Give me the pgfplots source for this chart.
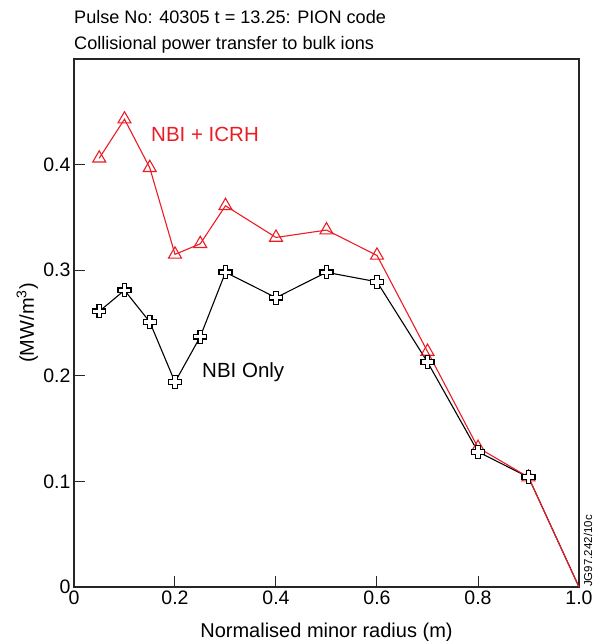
\documentclass[border=0pt]{standalone}
\usepackage{fontspec}
\setmainfont{Liberation Sans}
\usepackage{pgfplots}
\usepackage{pgfplotstable}
\pgfplotsset{compat=1.18}
\definecolor{jetred}{RGB}{236,28,36}
\pgfdeclareplotmark{fatplus}{%
  \pgfmathsetlengthmacro{\fpL}{\pgfplotmarksize}%
  \pgfmathsetlengthmacro{\fpA}{0.36*\pgfplotmarksize}%
  \pgfpathmoveto{\pgfqpoint{-\fpA}{\fpL}}%
  \pgfpathlineto{\pgfqpoint{\fpA}{\fpL}}%
  \pgfpathlineto{\pgfqpoint{\fpA}{\fpA}}%
  \pgfpathlineto{\pgfqpoint{\fpL}{\fpA}}%
  \pgfpathlineto{\pgfqpoint{\fpL}{-\fpA}}%
  \pgfpathlineto{\pgfqpoint{\fpA}{-\fpA}}%
  \pgfpathlineto{\pgfqpoint{\fpA}{-\fpL}}%
  \pgfpathlineto{\pgfqpoint{-\fpA}{-\fpL}}%
  \pgfpathlineto{\pgfqpoint{-\fpA}{-\fpA}}%
  \pgfpathlineto{\pgfqpoint{-\fpL}{-\fpA}}%
  \pgfpathlineto{\pgfqpoint{-\fpL}{\fpA}}%
  \pgfpathlineto{\pgfqpoint{-\fpA}{\fpA}}%
  \pgfpathclose
  \pgfusepathqfillstroke}
\pgfplotstableread{
x y
0.05 0.406
0.10 0.443
0.15 0.397
0.20 0.315
0.25 0.325
0.30 0.361
0.40 0.331
0.50 0.338
0.60 0.314
0.70 0.223
0.80 0.132
0.90 0.104
1.00 0.000
}\redtab
\pgfplotstableread{
x y
0.05 0.261
0.10 0.281
0.15 0.251
0.20 0.194
0.25 0.237
0.30 0.298
0.40 0.274
0.50 0.298
0.60 0.289
0.70 0.213
0.80 0.128
0.90 0.104
1.00 0.000
}\blacktab
\begin{document}
\begin{tikzpicture}
\begin{axis}[name=ax, scale only axis, width=505pt, height=528pt,
  xmin=0, xmax=1, ymin=0, ymax=0.5,
  xtick={0,0.2,0.4,0.6,0.8,1.0}, xticklabels={0,0.2,0.4,0.6,0.8,1.0},
  ytick={0,0.1,0.2,0.3,0.4}, yticklabels={0,0.1,0.2,0.3,0.4},
  tick pos=left, tick align=inside, major tick length=11pt,
  axis line style={black!85, line width=1.1pt},
  tick style={black!85, line width=1pt},
  ticklabel style={font=\fontsize{19.5}{22}\selectfont},
  clip=false]
\addplot[black, line width=1.1pt, no markers] table[x=x,y=y] {\blacktab};
\addplot[jetred, line width=1.1pt, mark=triangle, mark size=7.5pt, mark indices={1,...,12}, mark options={solid, fill=white, line width=1.1pt}] table[x=x,y=y] {\redtab};
\addplot[black, only marks, mark=fatplus, mark size=6.5pt, mark indices={1,...,12}, mark options={fill=white, line width=1.2pt}] table[x=x,y=y] {\blacktab};
\node[anchor=base west, text=jetred, font=\fontsize{20.5}{24}\selectfont, inner sep=0pt] at (axis cs:0.1525,0.4217) {NBI + ICRH};
\node[anchor=base west, text=black, font=\fontsize{20.5}{24}\selectfont, inner sep=0pt] at (axis cs:0.2535,0.198) {NBI Only};
\end{axis}
\node[anchor=base west, font=\fontsize{18.1}{22}\selectfont, inner sep=0pt] at ([yshift=35pt]ax.north west) {Pulse No: 40305 t = 13.25: PION code};
\node[anchor=base west, font=\fontsize{18.1}{22}\selectfont, inner sep=0pt] at ([yshift=9pt]ax.north west) {Collisional power transfer to bulk ions};
\node[anchor=base, font=\fontsize{20}{24}\selectfont, inner sep=0pt] at ([yshift=-50pt]ax.south) {Normalised minor radius (m)};
\node[rotate=90, anchor=base, font=\fontsize{20}{24}\selectfont, inner sep=0pt] at ([xshift=-40pt]ax.west) {(MW/m\textsuperscript{3})};
\node[rotate=90, anchor=base west, font=\fontsize{11.5}{13}\selectfont, inner sep=0pt] at ([xshift=13pt]ax.south east) {JG97.242/10c};
\pgfresetboundingbox
\path ([shift={(-74pt,-54pt)}]ax.south west) rectangle ([shift={(19pt,59pt)}]ax.north east);
\end{tikzpicture}
\end{document}
